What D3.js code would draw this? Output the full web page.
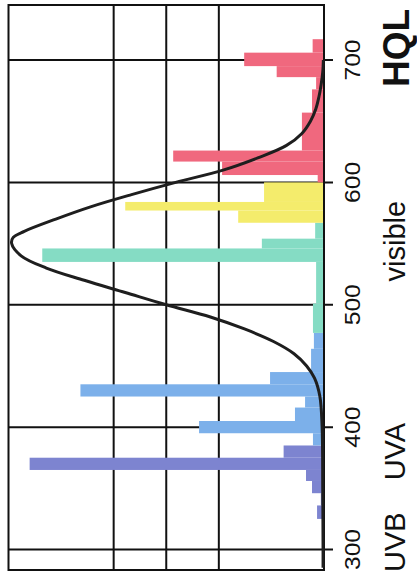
<!DOCTYPE html>
<html>
<head>
<meta charset="utf-8">
<script src="https://cdn.jsdelivr.net/npm/d3@7"></script>
<style>
  html, body { margin: 0; padding: 0; background: #fff; }
  svg { display: block; }
  text { font-family: "Liberation Sans", Arial, sans-serif; fill: #111; }
</style>
</head>
<body>
<svg id="chart" width="417" height="579"></svg>
<script>
// ---- data ----
// histogram bins: lower / upper wavelength edge (nm), relative intensity, spectral band
const binFrom  = [315,325,336,346,356,365,375,385,395,405,416,425,435,445,464,477,501,535,546,554,567,577,584,600,606,617,626,657,676,686,695,706];
const binTo    = [325,336,346,356,365,375,385,395,405,416,425,435,445,464,477,501,535,546,554,567,577,584,600,606,617,626,657,676,686,695,706,717];
const binValue = [0.005,0.022,0.010,0.038,0.057,0.933,0.128,0.035,0.396,0.092,0.060,0.772,0.171,0.041,0.032,0.035,0.025,0.893,0.197,0.028,0.272,0.630,0.190,0.020,0.323,0.478,0.070,0.038,0.025,0.150,0.253,0.036];
const binBand  = ["uv","uv","uv","uv","uv","uv","uv","blue","blue","blue","blue","blue","blue","blue","blue","green","green","green","green","green","yellow","yellow","yellow","red","red","red","red","red","red","red","red","red"];

// eye sensitivity curve
const curveNm  = [285,300,350,400,425,440,450,460,470,480,490,500,510,520,530,540,550,555,560,570,580,590,600,610,620,630,640,650,660,670,680,690,700];
const curveVal = [0.003,0.003,0.004,0.006,0.013,0.030,0.055,0.095,0.160,0.250,0.360,0.500,0.630,0.760,0.880,0.960,0.990,0.985,0.950,0.850,0.740,0.610,0.470,0.320,0.210,0.120,0.070,0.043,0.026,0.016,0.009,0.004,0.002];

const wlTicks   = [300, 400, 500, 600, 700];
const valGrid   = [0, 1/3, 1/2, 2/3, 1];
const bandNames = ["UVB", "UVA", "visible"];
const bandAt    = [306, 380, 552];
const lampName  = "HQL";

const bandColor = { uv: "#7d84d0", blue: "#7cb0ea", green: "#85dcc4", yellow: "#f4ec6c", red: "#f0687e" };

// ---- layout ----
const L = { left: 8.5, right: 324, top: 5, bottom: 570 };
const svg = d3.select("#chart");

const y = d3.scaleLinear().domain([300, 700]).range([549.5, 60]);
const x = d3.scaleLinear().domain([0, 1]).range([L.right, L.left]);

// horizontal grid lines (wavelength), extending past frame as ticks
svg.append("g").selectAll("line").data(wlTicks).join("line")
  .attr("x1", L.left).attr("x2", 333)
  .attr("y1", d => y(d)).attr("y2", d => y(d))
  .attr("stroke", "#111").attr("stroke-width", 2);

// vertical grid lines (intensity)
svg.append("g").selectAll("line").data(valGrid.slice(1, -1)).join("line")
  .attr("x1", d => x(d)).attr("x2", d => x(d))
  .attr("y1", L.top).attr("y2", L.bottom)
  .attr("stroke", "#111").attr("stroke-width", 2);

// bars
const bins = binFrom.map((f, i) => ({ from: f, to: binTo[i], v: binValue[i], band: binBand[i] }));
svg.append("g").selectAll("rect").data(bins).join("rect")
  .attr("x", d => x(d.v))
  .attr("width", d => L.right - x(d.v))
  .attr("y", d => y(d.to))
  .attr("height", d => y(d.from) - y(d.to))
  .attr("fill", d => bandColor[d.band]);

// frame
svg.append("rect")
  .attr("x", L.left).attr("y", L.top)
  .attr("width", L.right - L.left).attr("height", L.bottom - L.top)
  .attr("fill", "none").attr("stroke", "#111").attr("stroke-width", 2);

// curve
const pts = curveNm.map((n, i) => [n, curveVal[i]]);
svg.append("path")
  .datum(pts)
  .attr("d", d3.line().x(d => x(d[1])).y(d => y(d[0])).curve(d3.curveCatmullRom.alpha(0.5)))
  .attr("fill", "none").attr("stroke", "#1e1e1e").attr("stroke-width", 3)
  .attr("stroke-linejoin", "round");

// tick labels
svg.append("g").selectAll("text").data(wlTicks).join("text")
  .attr("transform", d => `translate(360,${y(d)}) rotate(-90) scale(1.12,1)`)
  .attr("text-anchor", "middle")
  .attr("font-size", 22)
  .text(d => d);

// band labels
svg.append("g").selectAll("text").data(bandNames).join("text")
  .attr("transform", (d, i) => `translate(405,${y(bandAt[i])}) rotate(-90)`)
  .attr("text-anchor", "middle")
  .attr("font-size", 29)
  .text(d => d);

svg.append("text")
  .attr("transform", `translate(409,48) rotate(-90)`)
  .attr("text-anchor", "middle")
  .attr("font-size", 37)
  .attr("font-weight", "bold")
  .text(lampName);
</script>
</body>
</html>
